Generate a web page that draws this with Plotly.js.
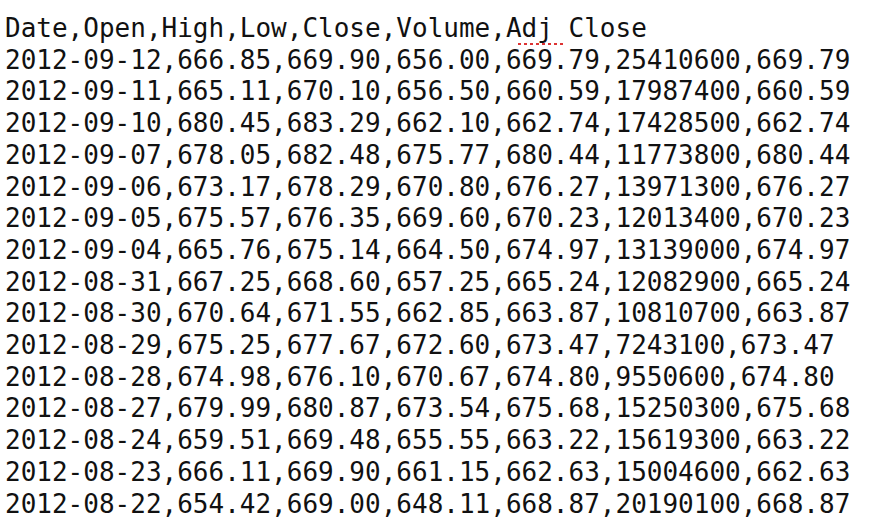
<!DOCTYPE html>
<html>
<head>
<meta charset="utf-8">
<script src="https://cdn.plot.ly/plotly-3.0.1.min.js"></script>
<style>html,body{margin:0;padding:0;background:#fff}</style>
</head>
<body>
<div id="plot" style="width:889px;height:521px"></div>
<script>
const header = ['Date', 'Open', 'High', 'Low', 'Close', 'Volume', 'Adj Close'];
const dates = ['2012-09-12', '2012-09-11', '2012-09-10', '2012-09-07', '2012-09-06',
  '2012-09-05', '2012-09-04', '2012-08-31', '2012-08-30', '2012-08-29',
  '2012-08-28', '2012-08-27', '2012-08-24', '2012-08-23', '2012-08-22'];
const open = [666.85, 665.11, 680.45, 678.05, 673.17, 675.57, 665.76, 667.25, 670.64, 675.25, 674.98, 679.99, 659.51, 666.11, 654.42];
const high = [669.90, 670.10, 683.29, 682.48, 678.29, 676.35, 675.14, 668.60, 671.55, 677.67, 676.10, 680.87, 669.48, 669.90, 669.00];
const low = [656.00, 656.50, 662.10, 675.77, 670.80, 669.60, 664.50, 657.25, 662.85, 672.60, 670.67, 673.54, 655.55, 661.15, 648.11];
const close = [669.79, 660.59, 662.74, 680.44, 676.27, 670.23, 674.97, 665.24, 663.87, 673.47, 674.80, 675.68, 663.22, 662.63, 668.87];
const volume = [25410600, 17987400, 17428500, 11773800, 13971300, 12013400, 13139000, 12082900, 10810700, 7243100, 9550600, 15250300, 15619300, 15004600, 20190100];
const adjClose = [669.79, 660.59, 662.74, 680.44, 676.27, 670.23, 674.97, 665.24, 663.87, 673.47, 674.80, 675.68, 663.22, 662.63, 668.87];

const lines = [header.join(',')];
dates.forEach((d, i) => {
  lines.push([d, open[i].toFixed(2), high[i].toFixed(2), low[i].toFixed(2),
    close[i].toFixed(2), volume[i], adjClose[i].toFixed(2)].join(','));
});

const W = 889, H = 521;
const firstY = 28, step = 31.7;
const annotations = lines.map((t, i) => ({
  text: t,
  xref: 'paper', yref: 'paper',
  x: 3 / W, y: 1 - (firstY + i * step) / H,
  xanchor: 'left', yanchor: 'middle',
  showarrow: false,
  font: { family: 'DejaVu Sans Mono', size: 26, color: '#111' }
}));

// spell-check squiggle under "Adj"
const shapes = [{
  type: 'line', xref: 'paper', yref: 'paper',
  x0: 518 / W, x1: 566 / W, y0: 1 - 44 / H, y1: 1 - 44 / H,
  line: { color: '#d33', width: 2, dash: 'dot' }
}];

const layout = {
  width: W, height: H,
  margin: { l: 0, r: 0, t: 0, b: 0 },
  paper_bgcolor: '#fff', plot_bgcolor: '#fff',
  xaxis: { visible: false }, yaxis: { visible: false },
  annotations, shapes, showlegend: false
};

Plotly.newPlot('plot', [], layout, { staticPlot: true });
</script>
</body>
</html>
